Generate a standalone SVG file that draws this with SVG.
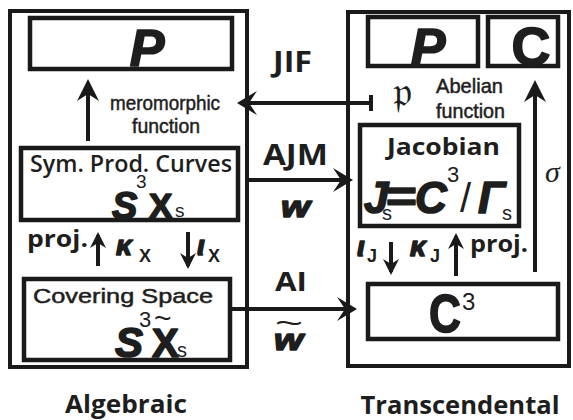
<svg xmlns="http://www.w3.org/2000/svg" width="573" height="420" viewBox="0 0 573 420">
<style>
.ln{stroke:#1a1a1a;fill:none;stroke-width:4}
.bx{stroke:#1a1a1a;fill:#fff;stroke-width:4.5}
text{fill:#1e1e1e}
.sb{font-family:"Open Sans","Noto Sans",sans-serif;font-weight:700}
.ss{font-family:"Open Sans","Noto Sans",sans-serif;font-weight:600}
.nr{font-family:"Liberation Sans",Arial,sans-serif}
.md{font-family:"Liberation Sans",Arial,sans-serif;stroke:#1e1e1e;stroke-width:0.5}
.hv{font-family:"Liberation Sans",Arial,sans-serif;font-weight:700}
.hvi{font-family:"Liberation Sans",Arial,sans-serif;font-weight:700;font-style:italic}
.tk{stroke:#1e1e1e;stroke-width:1.6;stroke-linejoin:round}
</style>
<defs>
<marker id="hv" viewBox="-24 -12 30 24" refX="0" refY="0" markerWidth="30" markerHeight="24" markerUnits="userSpaceOnUse" orient="auto">
<path d="M4,0 L-18,-11 L-11,0 L-18,11 Z" fill="#1a1a1a"/>
</marker>
<marker id="hh" viewBox="-24 -14 30 28" refX="0" refY="0" markerWidth="30" markerHeight="28" markerUnits="userSpaceOnUse" orient="auto">
<path d="M3,0 L-17,-12 L-9,0 L-17,12 Z" fill="#1a1a1a"/>
</marker>
<marker id="hs" viewBox="-18 -10 22 20" refX="0" refY="0" markerWidth="22" markerHeight="20" markerUnits="userSpaceOnUse" orient="auto">
<path d="M3,0 L-13,-8 L-8,0 L-13,8 Z" fill="#1a1a1a"/>
</marker>
</defs>
<rect width="573" height="420" fill="#fff"/>

<g id="algebraic">
<rect class="ln" x="10" y="11" width="237" height="356"/>
<text class="sb" x="126" y="413" font-size="25" text-anchor="middle" textLength="122" lengthAdjust="spacingAndGlyphs">Algebraic</text>
</g>
<g id="transcendental">
<rect class="ln" x="348" y="12" width="221" height="354"/>
<text class="sb" x="460" y="414" font-size="25" text-anchor="middle" textLength="199" lengthAdjust="spacingAndGlyphs">Transcendental</text>
</g>

<g id="P-left">
<rect class="bx" x="30" y="18" width="202" height="51"/>
<text class="hvi tk" x="147" y="66" font-size="52" text-anchor="middle">P</text>
</g>

<g id="sym">
<rect class="bx" x="21" y="148" width="217" height="72"/>
<text class="ss" x="30" y="172" font-size="23" textLength="202" lengthAdjust="spacingAndGlyphs">Sym. Prod. Curves</text>
<text class="hvi tk" x="112" y="219" font-size="38">S</text>
<text class="nr" x="136" y="188" font-size="19">3</text>
<text class="hv tk" x="149" y="218" font-size="35">X</text>
<text class="nr" x="175" y="217" font-size="19">s</text>
</g>

<g id="covering">
<rect class="bx" x="24" y="279" width="206" height="81"/>
<text class="md" x="33" y="303" font-size="21" textLength="180" lengthAdjust="spacingAndGlyphs">Covering Space</text>
<text class="hvi tk" x="115" y="357" font-size="42">S</text>
<text class="nr" x="139" y="327" font-size="22">3</text>
<text class="hv tk" x="152" y="357" font-size="40">X</text>
<text class="nr" x="154" y="328" font-size="30">~</text>
<text class="nr" x="177" y="357" font-size="20">s</text>
</g>

<g id="P-right">
<rect class="bx" x="368" y="17" width="110" height="49"/>
<text class="hvi tk" x="428" y="65" font-size="52" text-anchor="middle">P</text>
</g>
<g id="C-right">
<rect class="bx" x="488" y="17" width="70" height="49"/>
<text class="hv tk" x="531" y="65" font-size="54" text-anchor="middle">C</text>
</g>

<g id="jacobian">
<rect class="bx" x="360" y="125" width="159" height="101"/>
<text class="sb" x="387" y="155" font-size="24" textLength="113" lengthAdjust="spacingAndGlyphs">Jacobian</text>
<text class="hvi tk" x="364" y="213" font-size="44">J</text>
<text class="nr" x="382" y="220" font-size="20">s</text>
<text class="hv tk" x="386" y="212" font-size="44" textLength="31" lengthAdjust="spacingAndGlyphs">=</text>
<text class="hvi tk" x="415" y="213" font-size="44">C</text>
<text class="nr" x="447" y="182" font-size="22">3</text>
<text class="nr" x="460" y="212" font-size="40">/</text>
<text class="hvi tk" x="478" y="213" font-size="44" font-family="DejaVu Sans">Γ</text>
<text class="nr" x="502" y="220" font-size="20">s</text>
</g>

<g id="C3">
<rect class="bx" x="368" y="284" width="190" height="55"/>
<text class="hv tk" x="429" y="332" font-size="54" textLength="32" lengthAdjust="spacingAndGlyphs">C</text>
<text class="nr" x="462" y="310" font-size="24">3</text>
</g>

<g id="connectors">
<line class="ln" x1="88" y1="141" x2="88" y2="83" marker-end="url(#hv)"/>
<line class="ln" x1="535" y1="272" x2="535" y2="84" marker-end="url(#hv)"/>
<line class="ln" x1="371" y1="103" x2="240" y2="103" marker-end="url(#hh)"/>
<line class="ln" x1="371" y1="95" x2="371" y2="111"/>
<line class="ln" x1="247" y1="180" x2="350" y2="180" marker-end="url(#hh)"/>
<line class="ln" x1="232" y1="309" x2="354" y2="309" marker-end="url(#hh)"/>
<line class="ln" x1="98" y1="266" x2="98" y2="235" marker-end="url(#hs)"/>
<line class="ln" x1="188" y1="232" x2="188" y2="266" marker-end="url(#hs)"/>
<line class="ln" x1="391" y1="242" x2="391" y2="272" marker-end="url(#hs)"/>
<line class="ln" x1="456" y1="276" x2="456" y2="236" marker-end="url(#hs)"/>
</g>

<g id="labels">
<text class="md" x="165" y="110" font-size="21" text-anchor="middle" textLength="110" lengthAdjust="spacingAndGlyphs">meromorphic</text>
<text class="md" x="166" y="133" font-size="21" text-anchor="middle" textLength="68" lengthAdjust="spacingAndGlyphs">function</text>
<text class="sb" x="273" y="72" font-size="29" textLength="39" lengthAdjust="spacingAndGlyphs">JIF</text>
<text class="sb" x="263" y="165" font-size="29" textLength="65" lengthAdjust="spacingAndGlyphs">AJM</text>
<text class="hvi tk" x="281" y="217" font-size="30" textLength="29" lengthAdjust="spacingAndGlyphs">w</text>
<text class="sb" x="275" y="291" font-size="27" textLength="32" lengthAdjust="spacingAndGlyphs">AI</text>
<text class="nr" x="275" y="333" font-size="30" textLength="28" lengthAdjust="spacingAndGlyphs">~</text>
<text class="hvi tk" x="274" y="350" font-size="30" textLength="29" lengthAdjust="spacingAndGlyphs">w</text>
<text x="393" y="106" font-size="42" font-family="DejaVu Sans,DejaVu Serif,serif">𝔭</text>
<text class="md" x="436" y="93" font-size="21" textLength="67" lengthAdjust="spacingAndGlyphs">Abelian</text>
<text class="md" x="436" y="118" font-size="21" textLength="69" lengthAdjust="spacingAndGlyphs">function</text>
<text x="545" y="182" font-size="30" font-style="italic" font-family="Liberation Serif,serif">σ</text>
<text class="sb" x="27" y="247" font-size="23" textLength="61" lengthAdjust="spacingAndGlyphs">proj.</text>
<text class="hvi tk" x="116" y="255" font-size="28" font-family="DejaVu Sans">κ</text>
<text class="hv" x="139" y="262" font-size="18">X</text>
<text class="hvi tk" x="197" y="255" font-size="28" font-family="DejaVu Sans">ι</text>
<text class="hv" x="208" y="262" font-size="18">X</text>
<text class="hvi tk" x="357" y="256" font-size="28" font-family="DejaVu Sans">ι</text>
<text class="hv" x="367" y="262" font-size="18">J</text>
<text class="hvi tk" x="410" y="256" font-size="28" font-family="DejaVu Sans">κ</text>
<text class="hv" x="430" y="262" font-size="18">J</text>
<text class="sb" x="470" y="252" font-size="23" textLength="58" lengthAdjust="spacingAndGlyphs">proj.</text>
</g>
</svg>
